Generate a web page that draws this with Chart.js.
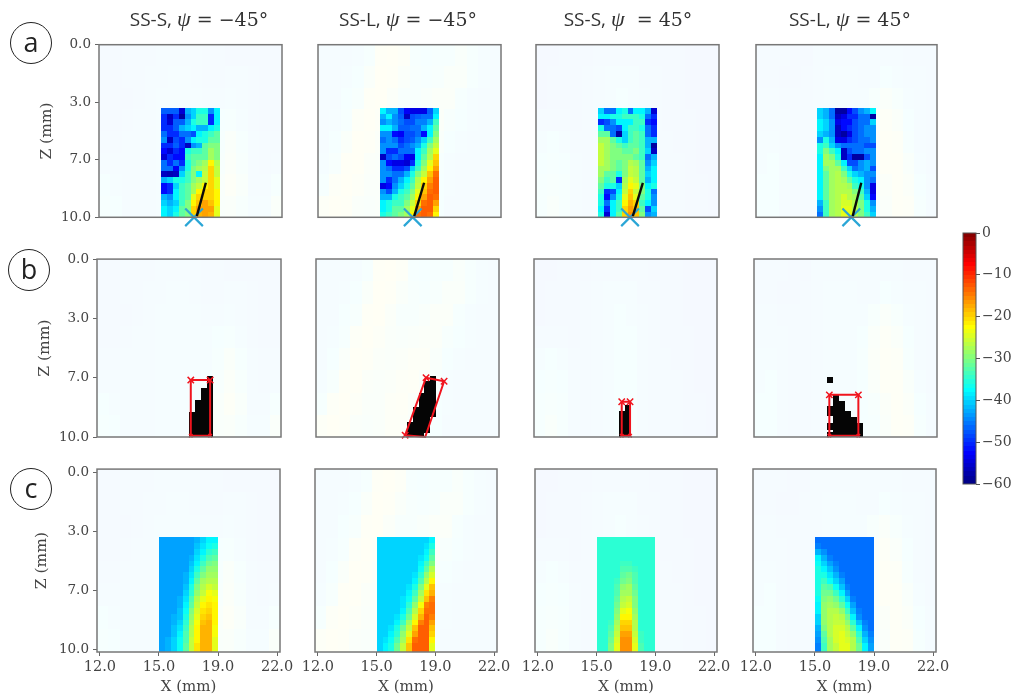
<!DOCTYPE html>
<html>
<head>
<meta charset="utf-8">
<title>Heat maps</title>
<script src="https://cdn.jsdelivr.net/npm/chart.js@4/dist/chart.umd.min.js"></script>
<style>
    html, body { margin: 0; padding: 0; background: #fff; overflow: hidden; }
    body { position: relative; width: 1016px; height: 694px; }
    canvas { position: absolute; filter: blur(0.45px); }
    .title { position: absolute; top: 5px; height: 28px; line-height: 28px; font-size: 19px; color: #333; white-space: pre; font-family: "DejaVu Serif", serif; transform: translateX(-50%); }
    .title b { font-family: "Open Sans", sans-serif; font-weight: 400; }
    .title i { font-family: "Liberation Serif", serif; font-size: 22px; }
    .badge { position: absolute; width: 40px; height: 40px; border: 1.5px solid #222; border-radius: 50%; text-align: center; font: 27px/37px "Open Sans", sans-serif; color: #222; }
</style>
</head>
<body>
<script>
// Tick labels, the axes run on pixel index
const xTicks = [0, 10, 20, 30];
const xTickLabels = ['12.0', '15.0', '19.0', '22.0'];
const yTicks = [0, 10, 20, 30];
const yTickLabels = ['0.0', '3.0', '7.0', '10.0'];
const barTicks = [-60, -50, -40, -30, -20, -10, 0];

// Row a: measured response in dB, 19 rows of 10 pixels
const heatA1 = [
    [-47,-47,-47,-55,-42,-40,-36,-36,-44,-38],
    [-50,-56,-50,-58,-44,-40,-34,-34,-50,-38],
    [-50,-55,-47,-47,-42,-36,-34,-34,-50,-38],
    [-50,-50,-47,-42,-40,-38,-42,-42,-38,-36],
    [-46,-50,-50,-46,-46,-48,-38,-36,-34,-32],
    [-44,-56,-48,-50,-44,-38,-36,-36,-32,-32],
    [-50,-50,-47,-50,-56,-44,-42,-32,-30,-30],
    [-52,-55,-50,-52,-36,-34,-34,-32,-28,-30],
    [-55,-50,-52,-52,-34,-32,-32,-32,-28,-30],
    [-46,-50,-46,-50,-36,-32,-30,-28,-22,-27],
    [-46,-46,-53,-44,-36,-30,-28,-27,-20,-26],
    [-56,-57,-56,-40,-34,-30,-38,-26,-20,-26],
    [-42,-40,-36,-36,-34,-30,-28,-26,-20,-24],
    [-52,-50,-40,-34,-32,-28,-26,-22,-20,-24],
    [-52,-50,-38,-34,-32,-28,-22,-20,-20,-22],
    [-42,-44,-38,-34,-32,-24,-20,-20,-20,-22],
    [-40,-42,-40,-34,-30,-22,-19,-17,-19,-22],
    [-38,-40,-38,-32,-30,-20,-17,-17,-17,-24],
    [-38,-40,-36,-32,-30,-20,-18,-17,-18,-24]
];
const heatA2 = [
    [-38,-42,-42,-48,-53,-54,-54,-54,-47,-40],
    [-42,-38,-44,-47,-56,-48,-47,-46,-46,-38],
    [-44,-42,-44,-46,-48,-48,-45,-45,-42,-34],
    [-38,-38,-42,-47,-47,-46,-46,-42,-38,-32],
    [-44,-44,-52,-53,-48,-48,-46,-52,-38,-30],
    [-46,-44,-46,-50,-48,-47,-44,-40,-34,-28],
    [-44,-44,-44,-48,-46,-44,-42,-36,-30,-26],
    [-44,-50,-50,-46,-46,-46,-38,-34,-28,-24],
    [-56,-48,-46,-48,-53,-54,-38,-32,-27,-20],
    [-44,-52,-54,-54,-55,-50,-36,-30,-24,-19],
    [-44,-46,-50,-50,-48,-40,-34,-28,-22,-17],
    [-44,-44,-46,-46,-42,-36,-30,-26,-19,-14],
    [-44,-50,-46,-42,-38,-34,-27,-22,-17,-13],
    [-54,-52,-44,-40,-36,-32,-26,-20,-15,-13],
    [-44,-48,-42,-36,-34,-30,-24,-19,-14,-13],
    [-42,-42,-36,-34,-32,-28,-22,-17,-13,-14],
    [-38,-36,-34,-34,-30,-26,-20,-14,-13,-17],
    [-38,-36,-32,-32,-28,-24,-17,-13,-13,-20],
    [-36,-34,-32,-30,-28,-22,-14,-13,-14,-22]
];
const heatA3 = [
    [-40,-46,-46,-38,-36,-46,-38,-38,-42,-55],
    [-38,-38,-36,-36,-34,-34,-34,-36,-46,-50],
    [-50,-48,-44,-38,-38,-38,-34,-34,-50,-52],
    [-36,-46,-46,-48,-38,-34,-34,-36,-46,-50],
    [-32,-32,-46,-58,-40,-34,-32,-34,-46,-50],
    [-28,-28,-32,-36,-40,-34,-32,-34,-42,-42],
    [-26,-28,-30,-32,-34,-32,-32,-34,-42,-58],
    [-26,-28,-30,-30,-32,-32,-30,-34,-40,-56],
    [-26,-28,-30,-30,-30,-30,-32,-34,-46,-42],
    [-26,-28,-30,-32,-30,-27,-28,-32,-44,-40],
    [-28,-28,-30,-32,-30,-26,-27,-32,-42,-38],
    [-28,-32,-32,-36,-30,-26,-27,-32,-40,-38],
    [-30,-34,-32,-50,-28,-24,-26,-32,-42,-38],
    [-32,-36,-36,-40,-27,-22,-24,-30,-38,-36],
    [-34,-50,-48,-38,-26,-20,-26,-30,-36,-46],
    [-36,-52,-44,-36,-24,-19,-24,-32,-36,-44],
    [-36,-46,-38,-34,-22,-18,-20,-34,-38,-44],
    [-38,-50,-38,-34,-20,-17,-19,-32,-48,-40],
    [-36,-55,-38,-32,-20,-16,-19,-30,-44,-42]
];
const heatA4 = [
    [-40,-42,-46,-58,-58,-52,-48,-44,-42,-38],
    [-40,-42,-46,-56,-54,-50,-50,-46,-46,-58],
    [-38,-40,-44,-54,-52,-52,-48,-46,-46,-40],
    [-38,-40,-44,-56,-52,-50,-48,-46,-44,-44],
    [-40,-42,-44,-56,-58,-54,-48,-46,-44,-44],
    [-44,-36,-42,-54,-54,-50,-48,-46,-46,-44],
    [-36,-34,-40,-44,-46,-46,-46,-46,-48,-48],
    [-36,-30,-34,-38,-56,-48,-46,-46,-44,-44],
    [-38,-28,-30,-36,-56,-50,-58,-58,-48,-44],
    [-38,-28,-28,-32,-38,-48,-48,-44,-42,-44],
    [-38,-30,-28,-28,-34,-40,-46,-44,-42,-48],
    [-38,-32,-28,-27,-30,-36,-40,-42,-44,-44],
    [-38,-32,-28,-27,-28,-32,-36,-38,-44,-46],
    [-38,-32,-28,-27,-27,-28,-34,-36,-44,-54],
    [-38,-32,-28,-27,-27,-27,-30,-34,-42,-54],
    [-38,-32,-28,-27,-25,-27,-28,-32,-40,-52],
    [-42,-34,-28,-27,-25,-25,-27,-30,-36,-44],
    [-44,-34,-28,-27,-24,-24,-27,-30,-36,-42],
    [-46,-34,-28,-27,-24,-24,-27,-30,-34,-40]
];

// Row c: simulated response in dB
const heatC1 = [
    [-43,-43,-43,-43,-43,-43,-42,-40,-38,-38],
    [-43,-43,-43,-43,-43,-43,-41,-39,-37,-36],
    [-43,-43,-43,-43,-43,-43,-40,-38,-35,-34],
    [-43,-43,-43,-43,-43,-42,-39,-36,-33,-32],
    [-43,-43,-43,-43,-43,-41,-38,-34,-31,-30],
    [-43,-43,-43,-43,-43,-40,-36,-32,-29,-29],
    [-43,-43,-43,-43,-42,-39,-34,-30,-28,-28],
    [-43,-43,-43,-43,-42,-38,-32,-28,-27,-27],
    [-43,-43,-43,-43,-41,-36,-30,-27,-25,-26],
    [-43,-43,-43,-43,-40,-35,-29,-26,-23,-24],
    [-43,-43,-43,-42,-39,-33,-27,-24,-22,-23],
    [-43,-43,-43,-42,-38,-32,-26,-22,-21,-22],
    [-43,-43,-43,-41,-37,-30,-25,-21,-20,-22],
    [-43,-43,-42,-41,-36,-29,-24,-20,-19,-22],
    [-43,-43,-42,-40,-35,-28,-23,-19,-18,-22],
    [-43,-43,-41,-39,-34,-27,-22,-18,-18,-23],
    [-43,-43,-41,-38,-33,-27,-22,-18,-18,-23],
    [-43,-42,-40,-37,-33,-26,-22,-18,-18,-24],
    [-43,-42,-40,-37,-32,-26,-21,-18,-18,-24]
];
const heatC2 = [
    [-40,-40,-40,-40,-40,-40,-40,-40,-40,-38],
    [-40,-40,-40,-40,-40,-40,-40,-40,-39,-36],
    [-40,-40,-40,-40,-40,-40,-40,-40,-38,-34],
    [-40,-40,-40,-40,-40,-40,-40,-39,-37,-32],
    [-40,-40,-40,-40,-40,-40,-40,-38,-34,-30],
    [-40,-40,-40,-40,-40,-40,-40,-37,-32,-27],
    [-40,-40,-40,-40,-40,-40,-39,-35,-29,-25],
    [-40,-40,-40,-40,-40,-40,-38,-33,-27,-22],
    [-40,-40,-40,-40,-40,-39,-36,-30,-24,-19],
    [-40,-40,-40,-40,-40,-38,-34,-28,-21,-18],
    [-40,-40,-40,-40,-39,-37,-32,-26,-19,-15],
    [-40,-40,-40,-40,-39,-35,-29,-23,-15,-14],
    [-40,-40,-40,-40,-38,-33,-27,-20,-14,-14],
    [-40,-40,-40,-39,-36,-31,-25,-18,-13,-15],
    [-40,-40,-40,-38,-34,-28,-22,-15,-13,-17],
    [-40,-40,-39,-36,-31,-26,-19,-13,-13,-19],
    [-40,-40,-38,-35,-29,-24,-17,-13,-13,-20],
    [-40,-39,-37,-33,-28,-21,-14,-13,-13,-22],
    [-40,-38,-36,-31,-26,-19,-13,-13,-13,-24]
];
const heatC3 = [
    [-35,-35,-35,-35,-35,-35,-35,-35,-35,-35],
    [-35,-35,-35,-35,-35,-35,-35,-35,-35,-35],
    [-35,-35,-35,-35,-35,-35,-35,-35,-35,-35],
    [-35,-35,-35,-35,-35,-35,-35,-35,-35,-35],
    [-35,-35,-35,-35,-34,-34,-35,-35,-35,-35],
    [-35,-35,-35,-35,-33,-33,-34,-35,-35,-35],
    [-35,-35,-35,-35,-32,-31,-33,-35,-35,-35],
    [-35,-35,-35,-34,-31,-30,-33,-35,-35,-35],
    [-35,-35,-35,-33,-29,-28,-32,-35,-35,-35],
    [-35,-35,-35,-33,-28,-28,-31,-35,-35,-35],
    [-35,-35,-35,-32,-27,-26,-30,-35,-35,-35],
    [-35,-35,-35,-31,-26,-25,-30,-35,-35,-35],
    [-35,-35,-35,-30,-24,-23,-29,-35,-35,-35],
    [-35,-35,-35,-29,-22,-22,-28,-35,-35,-35],
    [-35,-35,-34,-28,-20,-20,-27,-35,-35,-35],
    [-35,-35,-33,-27,-19,-19,-27,-35,-35,-35],
    [-35,-35,-32,-26,-17,-17,-26,-34,-35,-35],
    [-35,-35,-31,-25,-16,-16,-25,-34,-35,-35],
    [-35,-35,-30,-24,-16,-16,-24,-33,-35,-35]
];
const heatC4 = [
    [-46,-46,-46,-46,-46,-46,-46,-46,-46,-46],
    [-45,-46,-46,-46,-46,-46,-46,-46,-46,-46],
    [-42,-44,-46,-46,-46,-46,-46,-46,-46,-46],
    [-38,-42,-45,-46,-46,-46,-46,-46,-46,-46],
    [-37,-40,-43,-45,-46,-46,-46,-46,-46,-46],
    [-36,-38,-41,-44,-46,-46,-46,-46,-46,-46],
    [-36,-36,-39,-42,-45,-46,-46,-46,-46,-46],
    [-36,-34,-37,-40,-43,-46,-46,-46,-46,-46],
    [-36,-32,-33,-37,-41,-45,-46,-46,-46,-46],
    [-36,-31,-31,-34,-38,-43,-46,-46,-46,-46],
    [-37,-30,-29,-31,-35,-40,-45,-46,-46,-46],
    [-38,-29,-28,-29,-32,-37,-43,-46,-46,-46],
    [-38,-29,-27,-27,-29,-34,-41,-45,-46,-46],
    [-40,-29,-27,-26,-27,-31,-38,-44,-46,-46],
    [-40,-29,-27,-26,-26,-29,-35,-41,-45,-46],
    [-42,-30,-27,-25,-25,-27,-32,-38,-44,-46],
    [-43,-32,-27,-25,-24,-26,-29,-35,-42,-45],
    [-44,-33,-28,-25,-24,-25,-27,-33,-40,-44],
    [-45,-34,-28,-26,-24,-24,-27,-31,-38,-43]
];

// Faint full field behind each column, coarse 8 x 16
const fieldS1 = [
    [-45,-45,-44,-44,-44,-42,-42,-42,-42,-44,-44,-45,-45,-45,-45,-45],
    [-45,-45,-44,-44,-42,-42,-40,-40,-42,-44,-44,-42,-42,-44,-45,-45],
    [-45,-45,-45,-44,-42,-40,-40,-40,-40,-42,-42,-40,-42,-44,-45,-45],
    [-45,-45,-44,-42,-42,-40,-40,-40,-40,-40,-38,-36,-40,-44,-45,-45],
    [-44,-44,-42,-42,-42,-40,-40,-40,-40,-40,-36,-30,-36,-42,-44,-44],
    [-42,-42,-42,-42,-42,-40,-40,-40,-40,-38,-34,-28,-34,-42,-44,-42],
    [-38,-40,-42,-42,-42,-40,-40,-40,-40,-38,-32,-26,-32,-42,-42,-36],
    [-36,-38,-42,-42,-42,-40,-40,-40,-40,-38,-32,-30,-34,-40,-40,-30]
];
const fieldL1 = [
    [-42,-42,-42,-40,-36,-24,-22,-26,-36,-38,-36,-36,-32,-36,-40,-42],
    [-42,-42,-40,-38,-30,-22,-24,-30,-34,-36,-34,-30,-30,-36,-40,-42],
    [-42,-42,-38,-34,-24,-22,-28,-34,-34,-32,-28,-28,-36,-40,-42,-42],
    [-42,-40,-36,-26,-22,-26,-30,-32,-30,-28,-28,-34,-38,-40,-42,-42],
    [-42,-38,-30,-22,-24,-28,-30,-28,-26,-26,-32,-38,-40,-42,-42,-42],
    [-40,-34,-24,-22,-28,-30,-28,-26,-24,-30,-36,-40,-42,-42,-42,-42],
    [-36,-26,-22,-26,-30,-30,-26,-24,-28,-34,-38,-40,-42,-42,-42,-42],
    [-26,-22,-24,-30,-32,-30,-26,-26,-32,-36,-38,-42,-42,-42,-42,-42]
];
const fieldS2 = [
    [-46,-46,-45,-45,-45,-44,-44,-44,-44,-44,-45,-45,-45,-46,-46,-46],
    [-46,-45,-45,-45,-44,-42,-40,-40,-40,-44,-44,-45,-45,-46,-46,-46],
    [-46,-45,-45,-45,-44,-42,-40,-38,-40,-42,-44,-45,-45,-46,-46,-46],
    [-44,-44,-44,-45,-44,-42,-40,-38,-38,-42,-44,-45,-45,-45,-46,-46],
    [-40,-38,-40,-44,-44,-42,-40,-38,-38,-42,-44,-44,-45,-45,-46,-46],
    [-38,-36,-38,-42,-44,-42,-40,-38,-38,-42,-44,-44,-44,-45,-46,-46],
    [-36,-34,-36,-42,-44,-42,-40,-38,-38,-42,-44,-44,-44,-45,-45,-46],
    [-36,-32,-36,-42,-44,-42,-40,-38,-38,-42,-44,-44,-44,-45,-45,-46]
];
const fieldL2 = [
    [-44,-44,-44,-45,-45,-42,-42,-42,-42,-42,-42,-42,-42,-44,-44,-44],
    [-44,-44,-45,-45,-44,-42,-40,-40,-40,-42,-42,-38,-40,-42,-42,-44],
    [-42,-42,-44,-44,-44,-42,-40,-40,-40,-40,-34,-30,-34,-40,-42,-44],
    [-42,-42,-42,-44,-44,-42,-40,-40,-40,-38,-30,-26,-30,-38,-42,-44],
    [-40,-40,-42,-44,-44,-42,-40,-40,-40,-36,-28,-24,-26,-36,-42,-44],
    [-40,-38,-42,-44,-44,-42,-40,-40,-40,-38,-30,-24,-24,-32,-40,-44],
    [-38,-38,-42,-44,-44,-42,-40,-40,-40,-38,-34,-28,-24,-28,-38,-42],
    [-38,-38,-42,-44,-44,-42,-40,-40,-40,-38,-36,-30,-24,-26,-36,-42]
];

// Row b: black pixels above threshold, column edge plus top and bottom in axis units
const maskB1Left = [15.06, 16.06, 17.06, 18.06];
const maskB1Top = [25.75, 23.75, 21.75, 19.75];
const maskB1Bottom = [30, 30, 30, 30];
const maskB2Left = [14.87, 15.87, 16.87, 17.87, 18.87];
const maskB2Top = [27.4, 24.9, 22.6, 20.6, 19.8];
const maskB2Bottom = [30, 30, 30, 29.3, 26.6];
const maskB3Left = [13.96, 14.96];
const maskB3Top = [25.6, 24.6];
const maskB3Bottom = [30, 30];
const maskB4Left = [11.92, 11.92, 11.92, 11.92, 12.92, 13.92, 14.92, 15.92, 16.92];
const maskB4Top = [19.9, 24.8, 27.7, 29.2, 22.8, 23.9, 25.6, 26.7, 27.7];
const maskB4Bottom = [20.9, 26.4, 28.8, 30, 30, 30, 30, 30, 30];

// Row b: red bounding boxes
const boxB1X = [15.3, 18.56, 18.56, 15.3, 15.3];
const boxB1Y = [20.4, 20.4, 29.8, 29.8, 20.4];
const boxB2X = [18.14, 21.2, 18, 14.6, 18.14];
const boxB2Y = [20, 20.6, 30, 29.7, 20];
const boxB3X = [14.36, 15.77, 15.77, 14.36, 14.36];
const boxB3Y = [24.06, 24.06, 29.8, 29.8, 24.06];
const boxB4X = [12.26, 17.18, 17.18, 12.26, 12.26];
const boxB4Y = [22.9, 22.9, 29.8, 29.8, 22.9];

// Row a: source position and black crack line
const sourceX = [15.6, 15.55, 15.43, 15.82];
const sourceY = [30, 30, 30, 30];
const crackX0 = [16.07, 15.8, 15.9, 16.06];
const crackY0 = [29.8, 29.8, 29.8, 29.8];
const crackX1 = [17.6, 17.47, 17.6, 17.53];
const crackY1 = [24, 24, 24, 24];

const barLevels = [-60,-59,-58,-57,-56,-55,-54,-53,-52,-51,-50,-49,-48,-47,-46,-45,-44,-43,-42,-41,-40,-39,-38,-37,-36,-35,-34,-33,-32,-31,-30,-29,-28,-27,-26,-25,-24,-23,-22,-21,-20,-19,-18,-17,-16,-15,-14,-13,-12,-11,-10,-9,-8,-7,-6,-5,-4,-3,-2,-1];

const titles = [
    { sans: 'SS-S, ', rest: ' = −45°', x: 199 },
    { sans: 'SS-L, ', rest: ' = −45°', x: 408 },
    { sans: 'SS-S, ', rest: '  = 45°', x: 628 },
    { sans: 'SS-L, ', rest: ' = 45°', x: 850 }
];
const badges = [['a', 31, 43], ['b', 29, 270], ['c', 31, 489]];

// Panel frames in the page
const rowTop = [42, 259, 469];
const rowBottom = [218, 437, 652];
const colLeft = [[99, 318, 536, 756], [97, 316, 534, 754], [97, 315, 535, 753]];
const colRight = [[282, 501, 719, 937], [281, 499, 717, 937], [280, 497, 717, 936]];
const yTitleX = [47, 45, 42];

const SERIF = '"DejaVu Serif", serif';
const INK = '#444';

function jet(v) {
    const t = Math.min(1, Math.max(0, (v + 60) / 60));
    const c = p => Math.round(255 * Math.min(1, Math.max(0, 1.5 - Math.abs(4 * t - p))));
    return [c(3), c(2), c(1)];
}

function fillCell(ctx, chart, x0, x1, y0, y1, color) {
    const sx = chart.scales.x, sy = chart.scales.y;
    const left = Math.round(sx.getPixelForValue(x0));
    const right = Math.round(sx.getPixelForValue(x1));
    const top = Math.round(sy.getPixelForValue(y0));
    const bottom = Math.round(sy.getPixelForValue(y1));
    ctx.fillStyle = color;
    ctx.fillRect(left, top, right - left, bottom - top);
}

const panelCells = {
    id: 'panelCells',
    beforeDatasetsDraw(chart) {
        const cfg = chart.config.options.panel;
        if (!cfg) return;
        const ctx = chart.ctx, sx = chart.scales.x, sy = chart.scales.y;
        ctx.save();
        const area = chart.chartArea;
        ctx.beginPath();
        ctx.rect(area.left, area.top, area.right - area.left, area.bottom - area.top);
        ctx.clip();
        // faint field
        const cw = (sx.max - sx.min) / 16, ch = (sy.max - sy.min) / 8;
        cfg.field.forEach((row, r) => row.forEach((v, c) => {
            const [cr, cg, cb] = jet(v);
            fillCell(ctx, chart, sx.min + c * cw, sx.min + (c + 1) * cw, sy.min + r * ch, sy.min + (r + 1) * ch, `rgba(${cr},${cg},${cb},0.04)`);
        }));
        // measured or simulated block
        if (cfg.heat) {
            cfg.heat.forEach((row, r) => row.forEach((v, c) => {
                const [cr, cg, cb] = jet(v);
                const y1 = r === cfg.heat.length - 1 ? sy.max : 12 + r;
                fillCell(ctx, chart, 10 + c, 11 + c, 11 + r, y1, `rgb(${cr},${cg},${cb})`);
            }));
        }
        // threshold mask
        if (cfg.maskLeft) {
            cfg.maskLeft.forEach((x, i) => {
                fillCell(ctx, chart, x, x + 1, cfg.maskTop[i], cfg.maskBottom[i], '#050505');
            });
        }
        ctx.restore();
    },
    afterDatasetsDraw(chart) {
        const area = chart.chartArea, ctx = chart.ctx;
        if (!chart.config.options.panel) return;
        ctx.save();
        ctx.strokeStyle = '#777';
        ctx.lineWidth = 1.5;
        ctx.strokeRect(area.left, area.top, area.right - area.left, area.bottom - area.top);
        ctx.restore();
    }
};

function makeCanvas(left, top, width, height) {
    const canvas = document.createElement('canvas');
    canvas.width = width;
    canvas.height = height;
    canvas.style.left = left + 'px';
    canvas.style.top = top + 'px';
    canvas.style.width = width + 'px';
    canvas.style.height = height + 'px';
    document.body.appendChild(canvas);
    return canvas;
}

function pairs(xs, ys) {
    return xs.map((x, i) => ({ x: x, y: ys[i] }));
}

function makePanel(row, col, panel) {
    const L = colLeft[row][col], R = colRight[row][col], T = rowTop[row], B = rowBottom[row];
    const hasY = col === 0, hasX = row === 2;
    const yAxisW = hasY ? L - yTitleX[row] + 9 : 0;
    const xAxisH = hasX ? 44 : 0;
    const padL = hasY ? 2 : 24, padR = 24, padT = 12, padB = hasX ? 0 : 14;
    const canvas = makeCanvas(L - yAxisW - padL, T - padT, R - L + yAxisW + padL + padR, B - T + xAxisH + padT + padB);

    new Chart(canvas, {
        type: 'scatter',
        data: { datasets: panel.datasets },
        plugins: [panelCells],
        options: {
            responsive: false,
            animation: false,
            devicePixelRatio: 1,
            panel: panel,
            layout: { padding: { left: padL, right: padR, top: padT, bottom: padB } },
            plugins: { legend: { display: false }, tooltip: { enabled: false } },
            scales: {
                x: {
                    type: 'linear', min: -0.5, max: 30.5, display: hasX,
                    afterBuildTicks: s => { s.ticks = xTicks.map(v => ({ value: v })); },
                    afterFit: s => { if (hasX) s.height = xAxisH; },
                    grid: { drawOnChartArea: false, tickLength: 4, color: '#666' },
                    border: { display: false },
                    ticks: { autoSkip: false, maxRotation: 0, padding: 3, color: INK, font: { family: SERIF, size: 14.5 }, callback: v => xTickLabels[xTicks.indexOf(v)] },
                    title: { display: true, text: 'X (mm)', color: INK, padding: 0, font: { family: SERIF, size: 15 } }
                },
                y: {
                    type: 'linear', reverse: true, display: hasY,
                    min: row === 2 ? -0.5 : 0, max: row === 2 ? 30.5 : 30,
                    afterBuildTicks: s => { s.ticks = yTicks.map(v => ({ value: v })); },
                    afterFit: s => { if (hasY) s.width = yAxisW; },
                    grid: { drawOnChartArea: false, tickLength: 4, color: '#666' },
                    border: { display: false },
                    ticks: { autoSkip: false, padding: 4, color: INK, font: { family: SERIF, size: 13.5 }, callback: v => yTickLabels[yTicks.indexOf(v)] },
                    title: { display: true, text: 'Z (mm)', color: INK, padding: 0, font: { family: SERIF, size: 15.5 } }
                }
            }
        }
    });
}

function crackDatasets(i) {
    return [
        { data: [{ x: crackX0[i], y: crackY0[i] }, { x: crackX1[i], y: crackY1[i] }], showLine: true, borderColor: '#0a0a0a', borderWidth: 2.4, pointRadius: 0 },
        { data: [{ x: sourceX[i], y: sourceY[i] }], pointStyle: 'crossRot', pointRadius: 12.5, pointBorderWidth: 2.2, pointBorderColor: '#2ba6d6', clip: false }
    ];
}

function boxDataset(xs, ys, radii) {
    return { data: pairs(xs, ys), showLine: true, borderColor: '#f0141e', borderWidth: 2, pointStyle: 'crossRot', pointRadius: radii, pointBorderWidth: 1.5, pointBorderColor: '#f0141e', clip: false };
}

const fields = [fieldS1, fieldL1, fieldS2, fieldL2];
const heatsA = [heatA1, heatA2, heatA3, heatA4];
const heatsC = [heatC1, heatC2, heatC3, heatC4];
const masksLeft = [maskB1Left, maskB2Left, maskB3Left, maskB4Left];
const masksTop = [maskB1Top, maskB2Top, maskB3Top, maskB4Top];
const masksBottom = [maskB1Bottom, maskB2Bottom, maskB3Bottom, maskB4Bottom];
const boxesX = [boxB1X, boxB2X, boxB3X, boxB4X];
const boxesY = [boxB1Y, boxB2Y, boxB3Y, boxB4Y];
const boxRadii = [[4.5, 4.5, 2.5, 2.5, 0], [4.5, 4.5, 0, 4.5, 0], [4.5, 4.5, 2.5, 2.5, 0], [4.5, 4.5, 2.5, 2.5, 0]];

for (let i = 0; i < 4; i++) {
    makePanel(0, i, { field: fields[i], heat: heatsA[i], datasets: crackDatasets(i) });
    makePanel(1, i, { field: fields[i], maskLeft: masksLeft[i], maskTop: masksTop[i], maskBottom: masksBottom[i], datasets: [boxDataset(boxesX[i], boxesY[i], boxRadii[i])] });
    makePanel(2, i, { field: fields[i], heat: heatsC[i], datasets: [] });
}

// Colour bar
const barStrip = {
    id: 'barStrip',
    beforeDatasetsDraw(chart) {
        const ctx = chart.ctx, area = chart.chartArea, sy = chart.scales.y;
        barLevels.forEach(v => {
            const [r, g, b] = jet(v + 0.5);
            const top = Math.round(sy.getPixelForValue(v + 1));
            const bottom = Math.round(sy.getPixelForValue(v));
            ctx.fillStyle = `rgb(${r},${g},${b})`;
            ctx.fillRect(area.left, top, area.right - area.left, bottom - top);
        });
        ctx.strokeStyle = '#555';
        ctx.lineWidth = 1;
        ctx.strokeRect(area.left, area.top, area.right - area.left, area.bottom - area.top);
    }
};

new Chart(makeCanvas(958, 221, 58, 274), {
    type: 'scatter',
    data: { datasets: [] },
    plugins: [barStrip],
    options: {
        responsive: false,
        animation: false,
        devicePixelRatio: 1,
        layout: { padding: { left: 5, right: 0, top: 12, bottom: 11 } },
        plugins: { legend: { display: false }, tooltip: { enabled: false } },
        scales: {
            x: { type: 'linear', min: 0, max: 1, display: false },
            y: {
                type: 'linear', position: 'right', min: -60, max: 0,
                afterBuildTicks: s => { s.ticks = barTicks.map(v => ({ value: v })); },
                afterFit: s => { s.width = 40; },
                grid: { drawOnChartArea: false, tickLength: 4, color: '#555' },
                border: { display: false },
                ticks: { padding: 2, color: INK, font: { family: SERIF, size: 14 }, callback: v => v < 0 ? '−' + (-v) : '0' }
            }
        }
    }
});

// Column titles and row badges
titles.forEach(t => {
    const el = document.createElement('div');
    el.className = 'title';
    el.style.left = t.x + 'px';
    const sans = document.createElement('b');
    sans.textContent = t.sans;
    const psi = document.createElement('i');
    psi.textContent = 'ψ';
    el.append(sans, psi, t.rest);
    document.body.appendChild(el);
});

badges.forEach(b => {
    const el = document.createElement('div');
    el.className = 'badge';
    el.textContent = b[0];
    el.style.left = (b[1] - 21) + 'px';
    el.style.top = (b[2] - 21) + 'px';
    document.body.appendChild(el);
});
</script>
</body>
</html>
